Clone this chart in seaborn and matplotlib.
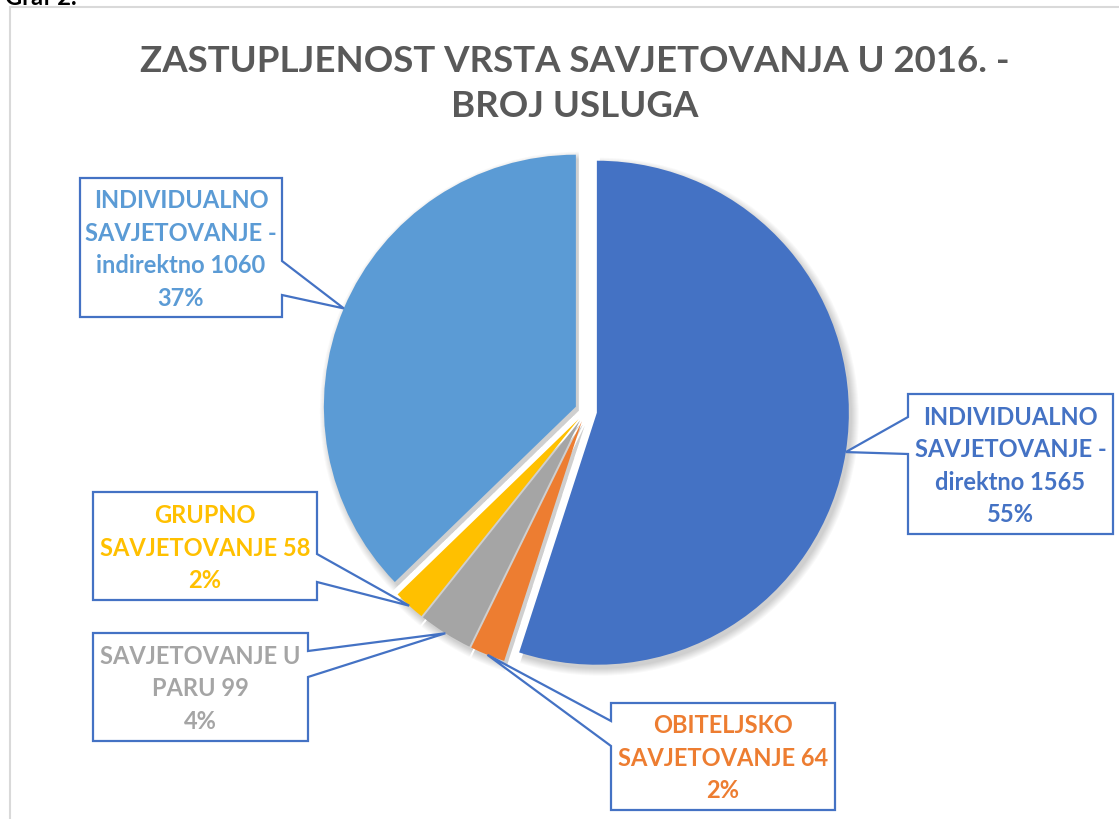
import numpy as np
import matplotlib
matplotlib.use("Agg")
import matplotlib.pyplot as plt
import seaborn as sns
from matplotlib.patches import Polygon, Rectangle

# data
categories = ["INDIVIDUALNO\nSAVJETOVANJE -\ndirektno", "OBITELJSKO\nSAVJETOVANJE",
              "SAVJETOVANJE U\nPARU", "GRUPNO\nSAVJETOVANJE",
              "INDIVIDUALNO\nSAVJETOVANJE -\nindirektno"]
values = [1565, 64, 99, 58, 1060]
percent_labels = ["55%", "2%", "4%", "2%", "37%"]
colors = ["#4472C4", "#ED7D31", "#A5A5A5", "#FFC000", "#5B9BD5"]
title = "ZASTUPLJENOST VRSTA SAVJETOVANJA U 2016. -\nBROJ USLUGA"

W, H = 1119, 820

# callout boxes in pixels (x0, y0, x1, y1), side of pointer, pointer attach y's
boxes = [
    ((908, 395, 1113, 535), "left", (418, 455)),
    ((611, 704, 835, 811), "left", (722, 747)),
    ((93, 634, 308, 742), "right", (652, 678)),
    ((93, 493, 317, 601), "right", (555, 583)),
    ((80, 179, 282, 318), "right", (262, 296)),
]

sns.set_style("white")
plt.rcParams["font.family"] = ["Lato", "DejaVu Sans"]

fig = plt.figure(figsize=(W / 100, H / 100), dpi=100)
ax = fig.add_axes([0, 0, 1, 1])

# chart frame
ax.add_patch(Rectangle((10, -20), W + 20, H - 8 + 20, fill=False,
                       edgecolor="#D9D9D9", lw=1.5))

fig.text(5 / W, 1 - 5 / H, "Graf 2.", fontsize=17, fontweight="bold",
         color="black", va="baseline", ha="left")

cx, cy, r = 586, H - 412, 252
gap = 11  # explode offset, data units (pixels)

# soft shadow
for k in range(8):
    ax.pie(values, startangle=90, counterclock=False, radius=r + 7 - k,
           center=(cx + 3, cy - 4), explode=[gap] * len(values),
           colors=["black"] * len(values),
           wedgeprops=dict(alpha=0.025, linewidth=0), frame=True)

wedges, _ = ax.pie(values, startangle=90, counterclock=False, radius=r,
                   center=(cx, cy), explode=[gap] * len(values), colors=colors,
                   wedgeprops=dict(linewidth=0), frame=True)
ax.set_xlim(0, W)
ax.set_ylim(0, H)
ax.set_aspect("equal")
ax.axis("off")

fig.text(575 / W, 1 - 84 / H, title, ha="center", va="center", fontsize=26.4,
         fontweight="bold", color="#595959", linespacing=1.48)

for w, name, val, pct, col, (rect, side, att) in zip(
        wedges, categories, values, percent_labels, colors, boxes):
    mid = np.deg2rad((w.theta1 + w.theta2) / 2)
    tx = w.center[0] + w.r * np.cos(mid)
    ty = w.center[1] + w.r * np.sin(mid)
    x0, y0, x1, y1 = rect
    y0, y1 = H - y0, H - y1
    a0, a1 = H - att[0], H - att[1]
    if side == "left":
        pts = [(x0, y0), (x1, y0), (x1, y1), (x0, y1), (x0, a1), (tx, ty), (x0, a0)]
    else:
        pts = [(x0, y0), (x1, y0), (x1, a0), (tx, ty), (x1, a1), (x1, y1), (x0, y1)]
    ax.add_patch(Polygon(pts, closed=True, facecolor="white",
                         edgecolor="#4472C4", lw=1.6, zorder=5))
    ax.text((x0 + x1) / 2, (y0 + y1) / 2 - 1, f"{name} {val}\n{pct}",
            ha="center", va="center", fontsize=17, fontweight="bold",
            color=col, linespacing=1.5, zorder=6)

fig.savefig("out.png", dpi=100)
